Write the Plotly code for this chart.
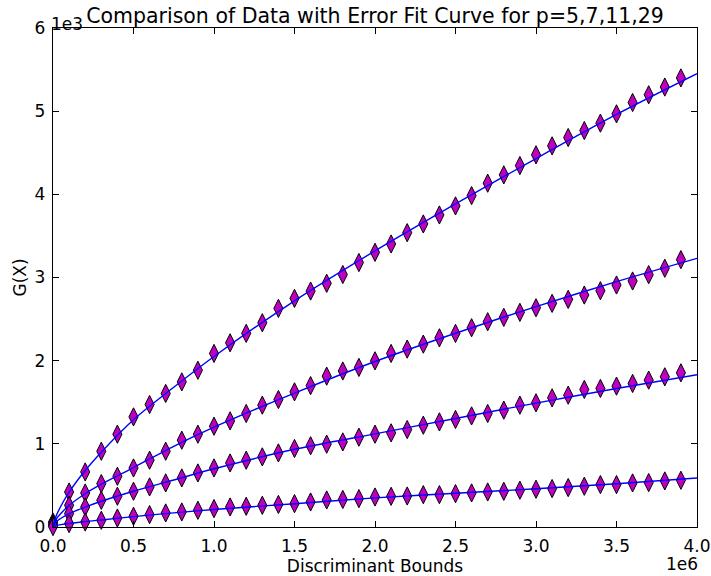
import plotly.graph_objects as go

# Data points (x in discriminant bound units, y = G(X))
x_data = [0] + [k * 100000 for k in range(1, 40)]

g_p5 = [60, 421, 662, 911, 1116, 1324, 1473, 1606, 1745, 1885,
        2087, 2215, 2328, 2456, 2629, 2749, 2837, 2930, 3036, 3180,
        3303, 3403, 3539, 3644, 3752, 3861, 3985, 4134, 4234, 4346,
        4475, 4583, 4683, 4767, 4856, 4968, 5104, 5197, 5290, 5400]

g_p7 = [40, 261, 409, 522, 610, 710, 803, 911, 1044, 1116,
        1212, 1276, 1365, 1465, 1533, 1625, 1700, 1814, 1876, 1919,
        1998, 2087, 2139, 2199, 2275, 2328, 2396, 2468, 2521, 2581,
        2636, 2689, 2737, 2789, 2841, 2910, 2958, 3034, 3111, 3215]

g_p11 = [20, 161, 241, 321, 370, 430, 482, 530, 590, 650,
         710, 770, 803, 843, 891, 944, 977, 996, 1023, 1080,
         1116, 1132, 1172, 1224, 1264, 1293, 1336, 1365, 1405, 1465,
         1493, 1553, 1585, 1654, 1666, 1694, 1726, 1766, 1806, 1854]

g_p29 = [5, 41, 60, 81, 108, 129, 149, 169, 181, 201,
         221, 241, 249, 261, 271, 281, 301, 325, 331, 341,
         361, 369, 373, 389, 389, 401, 410, 421, 429, 442,
         454, 462, 474, 490, 510, 510, 530, 534, 554, 562]

# Fit curves
x_fit = [0, 20000, 50000, 100000, 200000, 300000, 500000, 750000, 1000000,
         1500000, 2000000, 2500000, 3000000, 3500000, 4000000]
fit_p5 = [0, 135, 255, 420, 680, 900, 1290, 1680, 2050, 2720, 3320, 3885, 4430, 4960, 5450]
fit_p7 = [0, 95, 165, 260, 400, 515, 715, 970, 1200, 1610, 1990, 2330, 2650, 2950, 3230]
fit_p11 = [0, 65, 105, 160, 240, 310, 430, 565, 700, 935, 1120, 1305, 1490, 1665, 1830]
fit_p29 = [0, 18, 28, 42, 65, 85, 125, 170, 210, 280, 350, 405, 460, 520, 590]

x_tickvals = [0, 500000, 1000000, 1500000, 2000000, 2500000, 3000000, 3500000, 4000000]
x_ticktext = ["0.0", "0.5", "1.0", "1.5", "2.0", "2.5", "3.0", "3.5", "4.0"]
y_tickvals = [0, 1000, 2000, 3000, 4000, 5000, 6000]
y_ticktext = ["0", "1", "2", "3", "4", "5", "6"]

FONT = "DejaVu Sans"

fig = go.Figure()

for ys in [g_p5, g_p7, g_p11, g_p29]:
    fig.add_trace(go.Scatter(
        x=x_data, y=ys, mode="markers",
        marker=dict(symbol="diamond-tall", size=13, color="#bf00bf",
                    line=dict(color="black", width=1)),
        showlegend=False, cliponaxis=False))

for ys in [fit_p5, fit_p7, fit_p11, fit_p29]:
    fig.add_trace(go.Scatter(
        x=x_fit, y=ys, mode="lines", line=dict(color="#0000ff", width=1.4, shape="spline", smoothing=0.8),
        showlegend=False))

fig.update_layout(
    width=711, height=576,
    margin=dict(l=53, r=14, t=28, b=49),
    paper_bgcolor="white", plot_bgcolor="white",
    font=dict(family=FONT, size=17, color="black"),
    title=dict(text="Comparison of Data with Error Fit Curve for p=5,7,11,29",
               x=0.5, xref="paper", xanchor="center",
               y=1, yref="paper", yanchor="bottom", pad=dict(b=5),
               font=dict(family=FONT, size=20.5, color="black")),
    xaxis=dict(range=[0, 4000000], tickvals=x_tickvals, ticktext=x_ticktext,
               ticks="inside", ticklen=6, tickcolor="black", tickwidth=1,
               showline=True, linecolor="black", linewidth=1.3, mirror="ticks",
               showgrid=False, zeroline=False, ticklabelstandoff=3, automargin=False,
               title=dict(text="Discriminant Bounds", standoff=2,
                          font=dict(family=FONT, size=17)),
               tickfont=dict(family=FONT, size=17)),
    yaxis=dict(range=[0, 6000], tickvals=y_tickvals, ticktext=y_ticktext,
               ticks="inside", ticklen=6, tickcolor="black", tickwidth=1,
               showline=True, linecolor="black", linewidth=1.3, mirror="ticks",
               showgrid=False, zeroline=False, ticklabelstandoff=3, automargin=False,
               title=dict(text="G(X)", standoff=3,
                          font=dict(family=FONT, size=17)),
               tickfont=dict(family=FONT, size=17)),
    annotations=[
        dict(text="1e3", xref="paper", yref="paper", x=0, y=1,
             xanchor="left", yanchor="bottom", showarrow=False, xshift=-4, yshift=-8,
             font=dict(family=FONT, size=17)),
        dict(text="1e6", xref="paper", yref="paper", x=1, y=0,
             xanchor="right", yanchor="top", yshift=-25, xshift=3, showarrow=False,
             font=dict(family=FONT, size=17)),
    ],
)

fig.write_html("out.html", config={"displayModeBar": False},
               post_script="document.body.style.margin='0';")
